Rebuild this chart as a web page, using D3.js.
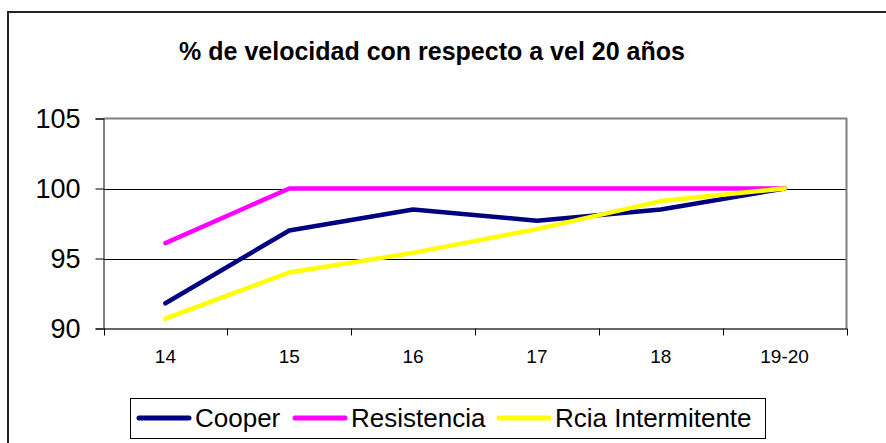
<!DOCTYPE html>
<html>
<head>
<meta charset="utf-8">
<script src="https://cdn.jsdelivr.net/npm/d3@7"></script>
<style>
  body { margin: 0; background: #fff; }
  svg { display: block; font-family: Arial, "Liberation Sans", sans-serif; }
</style>
</head>
<body>
<div id="chart"></div>
<script>
"use strict";

const categories = ["14", "15", "16", "17", "18", "19-20"];
const cooper = [91.8, 97.0, 98.5, 97.7, 98.5, 100];
const resistencia = [96.1, 100, 100, 100, 100, 100];
const rciaIntermitente = [90.7, 94.0, 95.4, 97.1, 99.1, 100];
const yTicks = [90, 95, 100, 105];
const seriesNames = ["Cooper", "Resistencia", "Rcia Intermitente"];
const seriesColors = ["#000080", "#ff00ff", "#ffff00"];
const title = "% de velocidad con respecto a vel 20 años";

const W = 886;
const H = 443;
const plot = { left: 103.5, right: 846.5, top: 118.5, bottom: 328.5 };

const svg = d3
  .select("#chart")
  .append("svg")
  .attr("width", W)
  .attr("height", H);

// outer chart border (runs off right / bottom of picture)
svg
  .append("rect")
  .attr("x", 8)
  .attr("y", 12)
  .attr("width", 1000)
  .attr("height", 600)
  .attr("fill", "#fff")
  .attr("stroke", "#222")
  .attr("stroke-width", 2);

svg
  .append("text")
  .attr("x", 432)
  .attr("y", 60)
  .attr("text-anchor", "middle")
  .attr("font-size", "25px")
  .attr("font-weight", "bold")
  .attr("fill", "#000")
  .text(title);

const x = d3
  .scaleBand()
  .domain(categories)
  .range([plot.left, plot.right])
  .padding(0);

const y = d3.scaleLinear().domain([90, 105]).range([plot.bottom, plot.top]);

// gridlines
svg
  .append("g")
  .selectAll("line")
  .data([95, 100])
  .enter()
  .append("line")
  .attr("x1", plot.left)
  .attr("x2", plot.right)
  .attr("y1", (d) => Math.round(y(d)) + 0.5)
  .attr("y2", (d) => Math.round(y(d)) + 0.5)
  .attr("stroke", "#000")
  .attr("stroke-width", 1);

// plot area top / right border
svg
  .append("path")
  .attr("d", `M${plot.left},${plot.top} H${plot.right} V${plot.bottom}`)
  .attr("fill", "none")
  .attr("stroke", "#808080")
  .attr("stroke-width", 2);

// y axis
const yAxis = svg
  .append("g")
  .attr("transform", `translate(${plot.left},0)`)
  .call(d3.axisLeft(y).tickValues(yTicks).tickSize(8).tickPadding(15));
yAxis.select(".domain").attr("stroke", "#000");
yAxis.selectAll(".tick line").attr("stroke", "#000");
yAxis
  .selectAll(".tick text")
  .attr("font-size", "27px")
  .attr("font-family", "Arial, 'Liberation Sans', sans-serif")
  .attr("fill", "#000");

// x axis: labels centred in bands, ticks on band edges
const xAxis = svg
  .append("g")
  .attr("transform", `translate(0,${plot.bottom})`)
  .call(d3.axisBottom(x).tickSize(0).tickPadding(21));
xAxis.select(".domain").attr("stroke", "#333").attr("stroke-width", 1.5);
xAxis
  .selectAll(".tick text")
  .attr("font-size", "19px")
  .attr("font-family", "Arial, 'Liberation Sans', sans-serif")
  .attr("fill", "#000");

const edges = categories.map((c) => x(c)).concat([x.range()[1]]);
xAxis
  .selectAll(".edge")
  .data(edges)
  .enter()
  .append("line")
  .attr("class", "edge")
  .attr("x1", (d) => Math.round(d) + 0.5)
  .attr("x2", (d) => Math.round(d) + 0.5)
  .attr("y1", 0)
  .attr("y2", 7)
  .attr("stroke", "#000");

// lines
const allSeries = [cooper, resistencia, rciaIntermitente];
const line = d3
  .line()
  .x((d, i) => x(categories[i]) + x.bandwidth() / 2)
  .y((d) => y(d));

svg
  .append("g")
  .selectAll("path")
  .data(allSeries)
  .enter()
  .append("path")
  .attr("d", (d) => line(d))
  .attr("fill", "none")
  .attr("stroke", (d, i) => seriesColors[i])
  .attr("stroke-width", 4.5)
  .attr("stroke-linejoin", "round")
  .attr("stroke-linecap", "round");

// legend
const legend = svg.append("g");
legend
  .append("rect")
  .attr("x", 130.5)
  .attr("y", 398.5)
  .attr("width", 635)
  .attr("height", 40)
  .attr("fill", "#fff")
  .attr("stroke", "#000");

const legendX = [139, 295, 499];
const items = legend
  .selectAll(".item")
  .data(seriesNames)
  .enter()
  .append("g")
  .attr("class", "item")
  .attr("transform", (d, i) => `translate(${legendX[i]},418)`);

items
  .append("line")
  .attr("x1", 0)
  .attr("x2", 50)
  .attr("y1", 0)
  .attr("y2", 0)
  .attr("stroke", (d, i) => seriesColors[i])
  .attr("stroke-width", 5)
  .attr("stroke-linecap", "round");

items
  .append("text")
  .attr("x", 56)
  .attr("y", 9)
  .attr("font-size", "26px")
  .attr("fill", "#000")
  .text((d) => d);
</script>
</body>
</html>
